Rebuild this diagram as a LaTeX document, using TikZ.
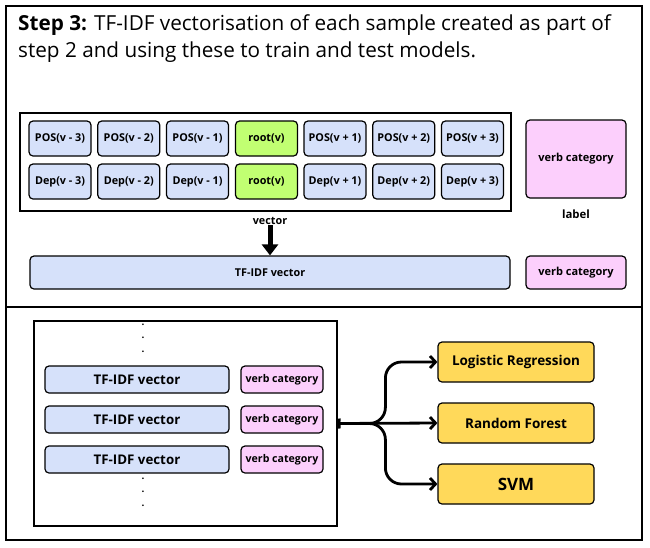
\documentclass[tikz,border=0pt]{standalone}
\usepackage{fontspec}
\setmainfont{Open Sans}
\usetikzlibrary{arrows.meta,positioning,calc}

\definecolor{featblue}{HTML}{D6E1FA}
\definecolor{rootgreen}{HTML}{C1FF72}
\definecolor{catpink}{HTML}{FCCFFC}
\definecolor{modelyellow}{HTML}{FFD95A}

\begin{document}
\begin{tikzpicture}[
  x=1pt, y=-1pt,
  every node/.style={font=\bfseries\fontsize{10.8}{12}\selectfont, align=center, inner sep=0pt},
  box/.style={draw, line width=1.2pt, rounded corners=4pt},
  feat/.style={box, fill=featblue, minimum width=62pt, minimum height=35pt},
  rootbox/.style={feat, fill=rootgreen},
  catbox/.style={box, fill=catpink, minimum width=100pt, font=\bfseries\fontsize{11}{12}\selectfont},
  model/.style={box, fill=modelyellow, minimum width=156pt, minimum height=40pt, font=\bfseries\fontsize{13.5}{15}\selectfont},
  frame/.style={draw, line width=1.2pt},
  arr/.style={line width=2.8pt, -{Straight Barb[length=5.5pt,width=12pt]}}
]
\useasboundingbox (0,0) rectangle (650,547);

% outer panel and title
\node[draw, line width=2pt, minimum width=636pt, minimum height=534pt] (panel) at (324,273) {};
\draw[line width=2pt] (panel.west |- 0,307) -- (panel.east |- 0,307);
\node[anchor=north west, align=left, font=\fontsize{20.7}{27}\selectfont] (title) at (18,14)
  {\textbf{Step 3:} TF-IDF vectorisation of each sample created as part of\\step 2 and using these to train and test models.};

% one sample: POS and Dep window round the verb
\node[frame, minimum width=491pt, minimum height=98pt] (sample) at (265.5,162) {};
\foreach \k/\sg in {0/- 3,1/- 2,2/- 1,4/+ 1,5/+ 2,6/+ 3} {
  \node[feat] (pos\k) at (60+68.75*\k,138.5) {POS(v \sg)};
  \node[feat] (dep\k) at (60+68.75*\k,181.5) {Dep(v \sg)};
}
\node[rootbox] (pos3) at (266.5,138.5) {root(v)};
\node[rootbox] (dep3) at (266.5,181.5) {root(v)};

\node[catbox, minimum height=78pt] (cat) at (576,159) {verb category};
\node[font=\bfseries\fontsize{11.4}{12}\selectfont] (label) at (576,214) {label};

\node (vector) at (270,221) {vector};
\node[box, fill=featblue, minimum width=480pt, minimum height=33pt] (tfidf) at (270,272.5) {TF-IDF vector};
\node[catbox, minimum height=33pt] (tcat) at (576,272.5) {verb category};
\draw[line width=5pt, -{Triangle[length=11pt,width=16pt]}] (vector) -- (vector |- tfidf.north);

% training set
\node[frame, minimum width=303pt, minimum height=205pt] (set) at (185.5,423.5) {};
\foreach \r/\y in {1/379.5,2/419.5,3/459.5} {
  \node[box, fill=featblue, minimum width=184pt, minimum height=27pt, font=\bfseries\fontsize{13.3}{14}\selectfont] (vec\r) at (137,\y) {TF-IDF vector};
  \node[box, fill=catpink, minimum width=82pt, minimum height=27pt, font=\bfseries\fontsize{10.6}{12}\selectfont] (lab\r) at (282,\y) {verb category};
}
\node[font=\bfseries\fontsize{10}{13.5}\selectfont] (dotsup) at (143,338) {.\\.\\.};
\node[font=\bfseries\fontsize{10}{13.5}\selectfont] (dotsdown) at (143,492) {.\\.\\.};

% models
\node[model] (lr) at (516,362) {Logistic Regression};
\node[model] (rf) at (516,423) {Random Forest};
\node[model, font=\bfseries\fontsize{17}{19}\selectfont] (svm) at (516,484) {SVM};

\coordinate (fork) at ($(set.east)+(16,0)$);
\draw[arr, {Bar[width=10pt,length=3pt]}-{Straight Barb[length=5.5pt,width=12pt]}] (set.east) -- (rf.west);
\draw[arr, rounded corners=16pt] (fork) -| ($(lr.west)+(-52,0)$) -- (lr.west);
\draw[arr, rounded corners=16pt] (fork) -| ($(svm.west)+(-52,0)$) -- (svm.west);
\end{tikzpicture}
\end{document}
